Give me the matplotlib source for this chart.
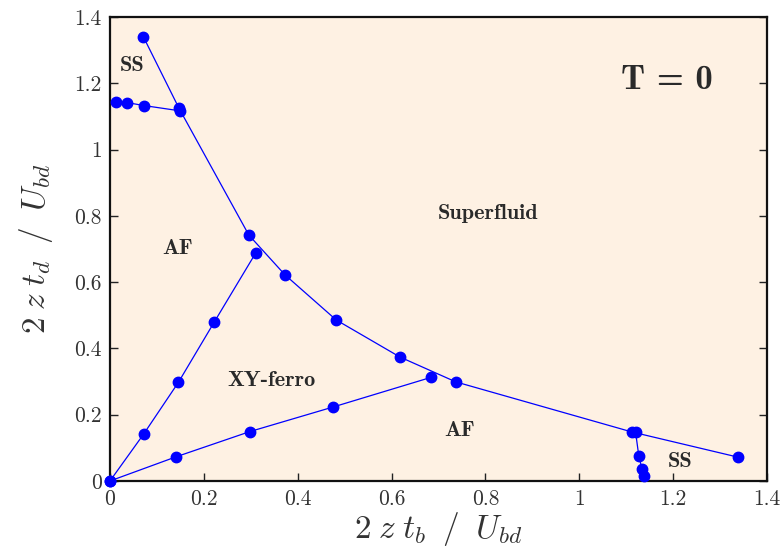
import numpy as np
import matplotlib
matplotlib.use("Agg")
import matplotlib.pyplot as plt

plt.rcParams['mathtext.fontset'] = 'cm'
plt.rcParams['font.family'] = 'cmr10'
plt.rcParams['axes.formatter.use_mathtext'] = True

# superfluid boundary (upper / right line)
x_sf = [0.071, 0.147, 0.296, 0.373, 0.482, 0.618, 0.737, 1.112, 1.338]
y_sf = [1.341, 1.125, 0.742, 0.622, 0.486, 0.374, 0.299, 0.148, 0.072]

# supersolid boundary, small t_b
x_ss_top = [0.012, 0.036, 0.072, 0.149]
y_ss_top = [1.145, 1.142, 1.133, 1.117]

# supersolid boundary, small t_d
x_ss_bot = [1.120, 1.127, 1.134, 1.138]
y_ss_bot = [0.148, 0.075, 0.035, 0.015]

# XY-ferro region edges
x_xy_up = [0.0, 0.072, 0.146, 0.222, 0.311]
y_xy_up = [0.0, 0.142, 0.298, 0.479, 0.689]
x_xy_lo = [0.0, 0.141, 0.298, 0.475, 0.685]
y_xy_lo = [0.0, 0.073, 0.149, 0.223, 0.313]

ticks = [0, 0.2, 0.4, 0.6, 0.8, 1, 1.2, 1.4]
tick_labels = ['0', '0.2', '0.4', '0.6', '0.8', '1', '1.2', '1.4']

fig = plt.figure(figsize=(7.81, 5.50), dpi=100)
ax = fig.add_axes([0.1408, 0.1255, 0.8412, 0.8435])
ax.set_facecolor('#FEF1E3')

style = dict(color='#0000FF', lw=0.9, marker='o', ms=7.5, mec='#0000FF', clip_on=False, zorder=3)
for xs, ys in [(x_sf, y_sf), (x_ss_top, y_ss_top), (x_ss_bot, y_ss_bot),
               (x_xy_up, y_xy_up), (x_xy_lo, y_xy_lo)]:
    ax.plot(xs, ys, **style)

ax.set_xlim(0, 1.4)
ax.set_ylim(0, 1.4)
ax.set_xticks(ticks)
ax.set_xticklabels(tick_labels)
ax.set_yticks(ticks)
ax.set_yticklabels(tick_labels)
ax.tick_params(direction='in', length=6, width=1, labelsize=15.5, top=False, right=True,
               colors='#222222', labelcolor='#333333', pad=6)
for s in ax.spines.values():
    s.set_linewidth(1.6)
    s.set_color('#111111')

ax.set_xlabel(r'$2\;z\;t_b\;\;/\;\;U_{bd}$', fontsize=24, labelpad=1, color='#333333')
ax.set_ylabel(r'$2\;z\;t_d\;\;/\;\;U_{bd}$', fontsize=24, labelpad=14, color='#333333')

lab = dict(family='cmb10', color='#2a2a2a', ha='center', va='center')
ax.text(0.047, 1.255, 'SS', fontsize=16, **lab)
ax.text(1.187, 1.21, 'T = 0', fontsize=25, **lab)
ax.text(0.805, 0.806, 'Superfluid', fontsize=16, **lab)
ax.text(0.145, 0.703, 'AF', fontsize=16, **lab)
ax.text(0.345, 0.302, 'XY-ferro', fontsize=16, **lab)
ax.text(0.744, 0.151, 'AF', fontsize=16, **lab)
ax.text(1.215, 0.060, 'SS', fontsize=16, **lab)

fig.savefig('out.png', dpi=100)
